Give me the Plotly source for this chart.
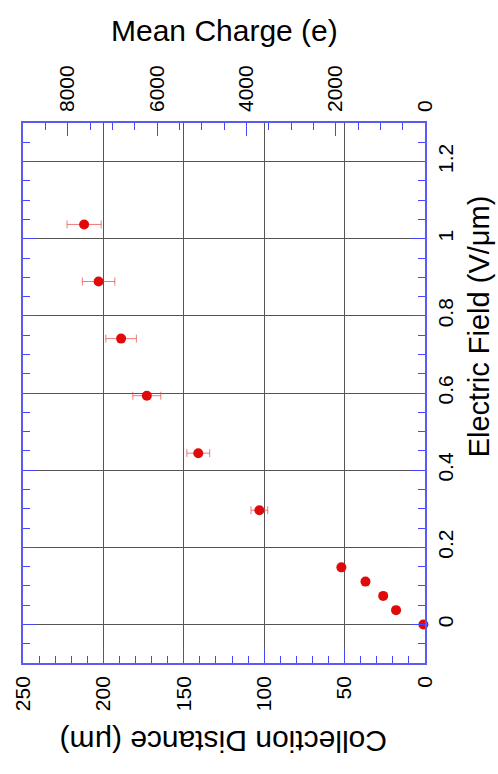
import plotly.graph_objects as go

# Measured collection distance vs applied electric field
field = [0, 0.037, 0.074, 0.111, 0.148, 0.296, 0.444, 0.593, 0.741, 0.889, 1.037]   # V/um
distance = [1, 18, 26, 37, 52, 103, 141, 173, 189, 203, 212]                        # um
distance_err = [0, 0, 0, 0, 0, 5.2, 7.1, 8.7, 9.5, 10.1, 10.6]                       # um

distance_ticks = [0, 50, 100, 150, 200, 250]
charge_ticks = [0, 2000, 4000, 6000, 8000]
field_ticks = [0, 0.2, 0.4, 0.6, 0.8, 1, 1.2]

E_PER_UM = 36  # mean charge per micron of collection distance

FONT = "Liberation Sans, Arial, Helvetica, sans-serif"
FRAME = "rgb(90,90,245)"
TICK = "rgb(70,70,255)"
GRID = "#555555"

fig = go.Figure()

fig.add_trace(go.Scatter(
    x=distance, y=field, mode="markers",
    marker=dict(color="#e00a0a", size=10, line=dict(width=0)),
    error_x=dict(type="data", array=distance_err, visible=True,
                 color="rgba(225,70,70,0.7)", thickness=1, width=4),
    showlegend=False, cliponaxis=False,
))
# empty trace so the mean-charge axis is drawn
fig.add_trace(go.Scatter(x=[], y=[], xaxis="x2", showlegend=False))

fig.update_layout(
    width=498, height=774,
    margin=dict(l=23, r=73, t=123, b=111),
    paper_bgcolor="white", plot_bgcolor="white",
    font=dict(family=FONT, color="black"),
    xaxis=dict(
        range=[250, 0], tickvals=distance_ticks, ticktext=[str(v) for v in distance_ticks],
        tickangle=-90, tickfont=dict(size=21),
        ticks="inside", ticklen=13, tickwidth=1, tickcolor=TICK,
        minor=dict(dtick=10, tick0=0, ticks="inside", ticklen=7, tickcolor=TICK, showgrid=False),
        showline=True, linecolor=FRAME, linewidth=1.5, mirror=False,
        showgrid=True, gridcolor=GRID, gridwidth=1, zeroline=False,
        ticklabelstandoff=3,
    ),
    xaxis2=dict(
        overlaying="x", side="top", matches=None,
        range=[250 * E_PER_UM, 0], tickvals=charge_ticks, ticktext=[str(v) for v in charge_ticks],
        tickangle=-90, tickfont=dict(size=21),
        ticks="inside", ticklen=13, tickwidth=1, tickcolor=TICK,
        minor=dict(dtick=500, tick0=0, ticks="inside", ticklen=7, tickcolor=TICK, showgrid=False),
        showline=True, linecolor=FRAME, linewidth=1.5,
        showgrid=False, zeroline=False,
        ticklabelstandoff=5,
    ),
    yaxis=dict(
        range=[-0.1, 1.3], side="right", tickvals=field_ticks,
        ticktext=["0", "0.2", "0.4", "0.6", "0.8", "1", "1.2"],
        tickangle=-90, tickfont=dict(size=21),
        ticks="inside", ticklen=13, tickwidth=1, tickcolor=TICK,
        minor=dict(dtick=0.05, tick0=0, ticks="inside", ticklen=7, tickcolor=TICK, showgrid=False),
        showline=True, linecolor=FRAME, linewidth=1.5, mirror="ticks",
        showgrid=True, gridcolor=GRID, gridwidth=1, zeroline=False,
        ticklabelstandoff=1,
    ),
    annotations=[
        dict(text="Mean Charge (e)", xref="paper", yref="paper", x=0.5, y=1.172,
             showarrow=False, font=dict(size=30, family=FONT), xanchor="center", yanchor="middle"),
        dict(text="Collection Distance (\u03bcm)", xref="paper", yref="paper", x=0.5, y=-0.145,
             showarrow=False, textangle=180, font=dict(size=30, family=FONT),
             xanchor="center", yanchor="middle"),
        dict(text="Electric Field (V/\u03bcm)", xref="paper", yref="paper", x=1.135, y=0.624,
             showarrow=False, textangle=-90, font=dict(size=29, family=FONT),
             xanchor="center", yanchor="middle"),
    ],
)

fig.write_html("out.html")
